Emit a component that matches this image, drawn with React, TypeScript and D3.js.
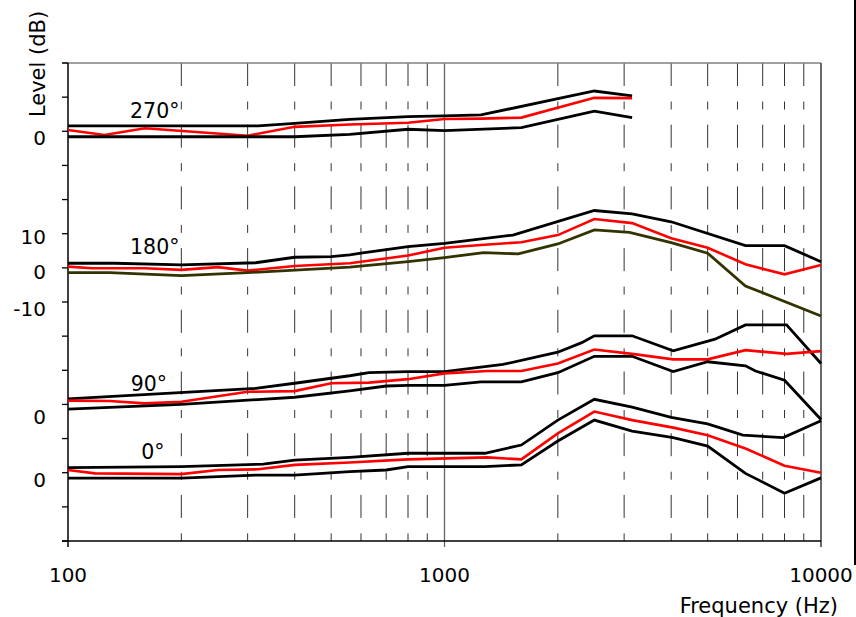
import React from 'react';
import * as d3 from 'd3';

type Pt = [number, number];

// frequency axis
const decadeFreqs = [100, 1000, 10000];
const minorFreqs = [200, 300, 400, 500, 600, 700, 800, 900, 2000, 3000, 4000, 5000, 6000, 7000, 8000, 9000];

// level axis, in axis units (10 dB per tick, four stacked groups)
const levelTicks = [0, 10, 20, 30, 40, 50, 60, 70, 80, 90, 100, 110, 120, 130, 140];
const levelLabels = [
  { text: '0', at: 116.0 },
  { text: '10', at: 87.0 },
  { text: '0', at: 76.7 },
  { text: '-10', at: 66.0 },
  { text: '0', at: 34.3 },
  { text: '0', at: 15.7 },
];

// 270°
const d270Hi: Pt[] = [[100, 1.6], [320, 1.6], [400, 2.3], [560, 3.5], [800, 4.3], [1000, 4.5], [1250, 4.8], [2500, 11.8], [3150, 10.4]];
const d270Mid: Pt[] = [[100, 0.4], [125, -1.1], [160, 0.9], [300, -1.3], [400, 1.3], [560, 2.0], [800, 2.5], [1000, 3.6], [1250, 3.7], [1600, 4.0], [2500, 9.8], [3150, 9.7]];
const d270Lo: Pt[] = [[100, -1.6], [400, -1.6], [560, -0.9], [800, 0.6], [1000, 0.2], [1600, 1.05], [2500, 5.9], [3150, 4.0]];

// 180°
const d180Hi: Pt[] = [[100, 1.35], [133, 1.35], [200, 0.85], [315, 1.5], [400, 3.1], [500, 3.3], [560, 3.8], [600, 4.3], [800, 6.2], [1000, 7.2], [1520, 9.6], [2500, 16.8], [3150, 15.8], [4000, 13.5], [6300, 6.5], [8000, 6.5], [10000, 1.8]];
const d180Mid: Pt[] = [[100, 0.35], [116, -0.1], [160, -0.1], [200, -0.6], [250, 0.2], [300, -0.8], [400, 0.55], [560, 1.35], [600, 1.8], [800, 3.6], [1000, 5.9], [1250, 6.7], [1600, 7.5], [2000, 9.6], [2500, 14.3], [3150, 13.1], [4000, 8.7], [5000, 5.9], [6300, 1.05], [8000, -1.9], [10000, 0.85]];
const d180Lo: Pt[] = [[100, -1.4], [129, -1.4], [200, -2.3], [300, -1.4], [560, 0.2], [800, 1.8], [1000, 3.0], [1270, 4.45], [1570, 4.1], [2000, 7.0], [2500, 11.1], [3100, 10.4], [4000, 7.4], [5000, 4.3], [6300, -5.3], [10000, -14.1]];

// 90°
const d90Hi: Pt[] = [[100, 1.6], [315, 4.7], [400, 6.2], [560, 8.4], [630, 9.3], [800, 9.6], [1000, 9.6], [1430, 11.7], [2000, 15.3], [2315, 18.1], [2500, 20.1], [3150, 20.1], [4050, 15.7], [5230, 19.1], [6300, 23.3], [8100, 23.3], [10000, 12.0]];
const d90Mid: Pt[] = [[100, 1.1], [129, 1.0], [160, 0.3], [200, 0.8], [300, 3.7], [400, 3.9], [500, 6.2], [630, 6.4], [800, 7.4], [1000, 9.1], [1300, 9.8], [1600, 9.8], [2000, 12.0], [2500, 16.1], [3150, 14.8], [4050, 13.2], [5000, 13.2], [6300, 15.9], [8100, 14.8], [10000, 15.6]];
const d90Lo: Pt[] = [[100, -1.4], [200, 0.0], [400, 2.1], [560, 4.0], [700, 5.4], [800, 5.6], [1000, 5.6], [1250, 6.6], [1600, 6.6], [2000, 9.3], [2500, 14.1], [3150, 14.1], [4050, 9.6], [5000, 12.5], [6300, 11.3], [6700, 9.8], [8000, 7.1], [10000, -4.4]];

// 0°
const d0Hi: Pt[] = [[100, 1.5], [200, 1.8], [330, 2.5], [400, 3.7], [560, 4.5], [800, 5.7], [1280, 5.7], [1600, 8.1], [2000, 15.4], [2500, 21.5], [3150, 19.2], [4000, 16.2], [5000, 14.3], [6200, 11.0], [7940, 10.3], [10000, 15.2]];
const d0Mid: Pt[] = [[100, 0.8], [118, -0.2], [200, -0.4], [250, 0.8], [320, 1.0], [400, 2.3], [560, 3.0], [800, 3.9], [1300, 4.5], [1600, 3.9], [2000, 11.5], [2500, 17.9], [3150, 15.4], [4050, 13.2], [5000, 11.0], [6300, 7.1], [8000, 2.05], [10000, 0]];
const d0Lo: Pt[] = [[100, -1.6], [200, -1.6], [315, -0.7], [400, -0.7], [560, 0.3], [700, 0.8], [800, 1.8], [1280, 1.8], [1600, 2.3], [2000, 9.3], [2500, 15.4], [3150, 12.2], [4050, 10.3], [5000, 7.8], [6300, -0.2], [8000, -6.0], [10000, -1.5]];

const groupNames = ['270°', '180°', '90°', '0°'];
const groupOffsets = [120, 80, 40, 20];
const groupLabelFreqs = [170, 170, 164, 168];
const groupSeries = [
  [d270Hi, d270Mid, d270Lo],
  [d180Hi, d180Mid, d180Lo],
  [d90Hi, d90Mid, d90Lo],
  [d0Hi, d0Mid, d0Lo],
];

const W = 856;
const H = 617;
const left = 68;
const right = 821;
const top = 63;
const bottom = 541;
const font = "'DejaVu Sans', Verdana, sans-serif";

export default function App() {
  const x = d3.scaleLog().domain([100, 10000]).range([left, right]);
  const y = d3.scaleLinear().domain([0, 140]).range([bottom, top]);

  const colours = ['#000000', '#ff0000', '#000000'];
  const olive = '#333300';

  return (
    <svg width={W} height={H} style={{ position: 'absolute', left: 0, top: 0, background: '#fff' }} fontFamily={font}>
      {/* dashed grid */}
      {minorFreqs.map(f => (
        <line key={f} x1={x(f)} x2={x(f)} y1={top} y2={bottom}
          stroke="#333" strokeWidth={1} strokeDasharray="23,15.5,8,15.2" />
      ))}
      <line x1={x(1000)} x2={x(1000)} y1={top} y2={bottom + 6} stroke="#666" strokeWidth={1.3} />

      {/* frame */}
      <line x1={left - 6} x2={right} y1={top} y2={top} stroke="#808080" strokeWidth={1.3} />
      <line x1={right} x2={right} y1={top} y2={bottom + 6} stroke="#444" strokeWidth={1.6} />
      <line x1={left} x2={left} y1={top} y2={bottom + 6} stroke="#000" strokeWidth={1.5} />
      <line x1={left - 6} x2={right} y1={bottom} y2={bottom} stroke="#000" strokeWidth={1.5} />
      {levelTicks.map(t => (
        <line key={t} x1={left - 6} x2={left} y1={y(t)} y2={y(t)} stroke="#000" strokeWidth={1.3} />
      ))}
      {decadeFreqs.map(f => (
        <text key={f} x={x(f)} y={582} textAnchor="middle" fontSize={20}>{f}</text>
      ))}
      {levelLabels.map((l, i) => (
        <text key={i} x={46} y={y(l.at)} textAnchor="end" fontSize={20}>{l.text}</text>
      ))}

      {/* curves */}
      {groupSeries.map((series, gi) => {
        const line = d3.line<Pt>()
          .x(d => x(d[0]))
          .y(d => y(groupOffsets[gi] + d[1]));
        return (
          <g key={gi}>
            {series.map((s, si) => (
              <path key={si} d={line(s) || ''} fill="none"
                stroke={gi === 1 && si === 2 ? olive : colours[si]}
                strokeWidth={si === 1 ? 2.6 : 2.8} />
            ))}
            <text x={x(groupLabelFreqs[gi])} y={y(groupOffsets[gi] + 4)} textAnchor="middle" fontSize={20.5}>{groupNames[gi]}</text>
          </g>
        );
      })}

      {/* axis titles */}
      <text transform={`translate(45,${64}) rotate(-90)`} textAnchor="middle" fontSize={21}>Level (dB)</text>
      <text x={838} y={613} textAnchor="end" fontSize={21}>Frequency (Hz)</text>
      <line x1={855} x2={855} y1={0} y2={565} stroke="#000" strokeWidth={2} />
    </svg>
  );
}
